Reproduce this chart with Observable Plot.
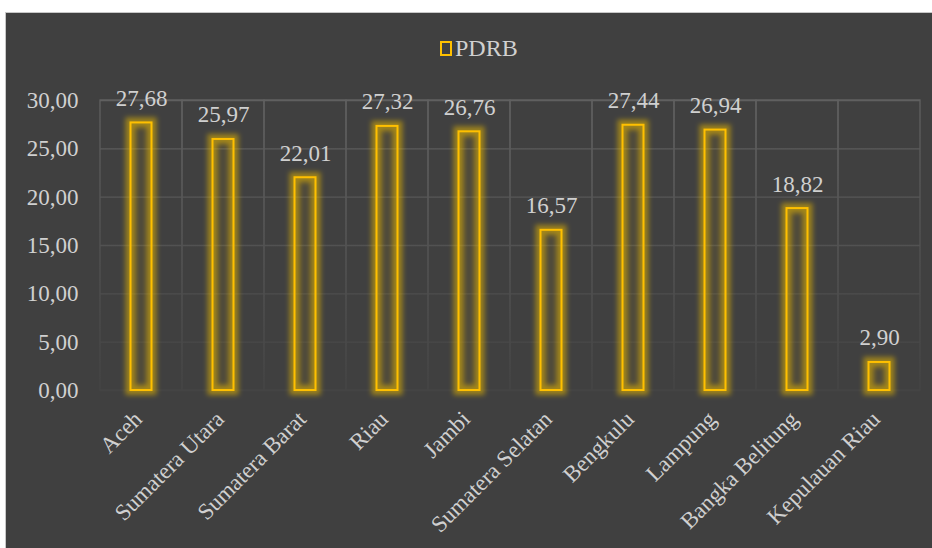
<!DOCTYPE html>
<html><head><meta charset="utf-8">
<script src="https://cdn.jsdelivr.net/npm/d3@7"></script>
<script src="https://cdn.jsdelivr.net/npm/@observablehq/plot@0.6"></script>
<style>
html,body{margin:0;padding:0;background:#fff;width:932px;height:548px;overflow:hidden}
#panel{position:absolute;left:5px;top:12px;width:927px;height:536px;background:#404040;border-top:1px solid #c8c8c8;border-left:1px solid #c8c8c8;box-sizing:border-box}
#legend{position:absolute;top:22px;left:434px;font-family:"Liberation Serif",serif;font-size:24px;color:#d0d0d0;display:flex;align-items:center}
#legend .sw{display:inline-block;width:8px;height:11px;border:2px solid #FFC000;margin-right:3px}
#chart{position:absolute;left:-1px;top:-1px}
</style></head>
<body>
<div id="panel"><div id="legend"><span class="sw"></span><span>PDRB</span></div><div id="chart"></div></div>
<script>
const provinces = ["Aceh","Sumatera Utara","Sumatera Barat","Riau","Jambi","Sumatera Selatan","Bengkulu","Lampung","Bangka Belitung","Kepulauan Riau"];
const pdrb = [27.68,25.97,22.01,27.32,26.76,16.57,27.44,26.94,18.82,2.90];
const yTicks = [0,5,10,15,20,25,30];
const seriesName = "PDRB";

const data = provinces.map((p,i)=>({prov:p, value:pdrb[i]}));
const fmt = v => v.toFixed(2).replace(".", ",");
const font = "Liberation Serif, Times New Roman, serif";
const W = 927, H = 536, mT = 88, mB = 158;

const chart = Plot.plot({
  width: W, height: H,
  marginLeft: 95, marginRight: 12, marginTop: mT, marginBottom: mB,
  style: {background: "transparent", fontFamily: font, fontSize: "23px", color: "#d0d0d0"},
  x: {domain: provinces, padding: 0, axis: null},
  y: {domain: [0,30], ticks: yTicks, tickFormat: fmt, label: null, tickSize: 0, tickPadding: 22},
  marks: [
    Plot.gridY(yTicks, {stroke: "url(#gridGrad)", strokeOpacity: 1, strokeWidth: 1.3}),
    Plot.barY(provinces, {x: d=>d, y: ()=>30, fill: "none", stroke: "url(#gridGrad)", strokeWidth: 1.3}),
    Plot.barY(data, {x: "prov", y: "value", fill: "none", stroke: "#E8B800", strokeOpacity: 0.55, strokeWidth: 10, insetLeft: 30.5, insetRight: 30.5}),
    Plot.barY(data, {x: "prov", y: "value", fill: "#FFC000", fillOpacity: 0.08, stroke: "#FFC000", strokeWidth: 2, insetLeft: 30.5, insetRight: 30.5}),
    Plot.text(data, {x: "prov", y: "value", text: d=>fmt(d.value), lineAnchor: "bottom", dy: -17, fill: "#d0d0d0", fontSize: 23}),
    Plot.text(provinces, {x: d=>d, frameAnchor: "bottom", text: d=>d, rotate: -45, textAnchor: "end", lineAnchor: "bottom", dx: 2, dy: 30, fill: "#d0d0d0", fontSize: 23})
  ]
});

const svg = d3.select(chart);
const defs = svg.insert("defs", ":first-child");
const g = defs.append("linearGradient").attr("id","gridGrad").attr("gradientUnits","userSpaceOnUse")
  .attr("x1",0).attr("x2",0).attr("y1",mT).attr("y2",H-mB);
g.append("stop").attr("offset","0%").attr("stop-color","#606060");
g.append("stop").attr("offset","100%").attr("stop-color","#444444");
const f = defs.append("filter").attr("id","glow").attr("x","-50%").attr("y","-50%").attr("width","200%").attr("height","200%");
f.append("feGaussianBlur").attr("stdDeviation", 2.4);
const bars = svg.selectAll('g[aria-label="bar"]').nodes();
d3.select(bars[1]).attr("filter","url(#glow)");
document.getElementById("chart").appendChild(chart);
</script>
</body></html>
